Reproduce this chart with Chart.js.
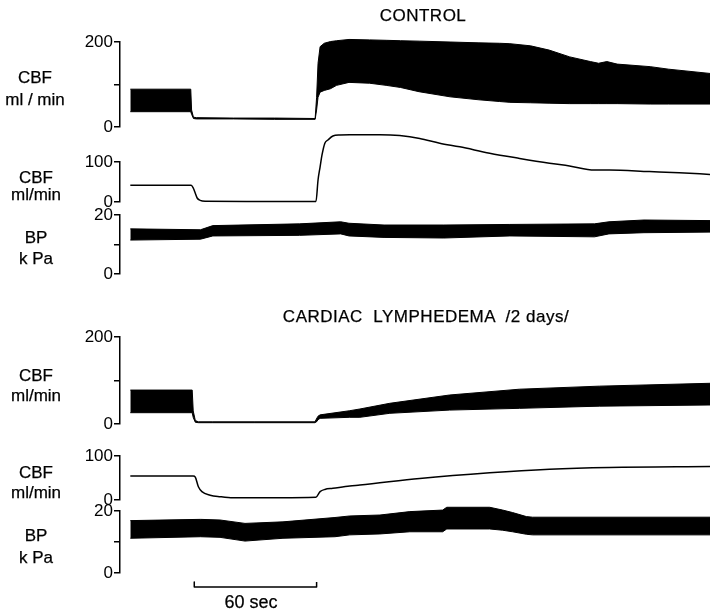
<!DOCTYPE html>
<html>
<head>
<meta charset="utf-8">
<script src="https://cdn.jsdelivr.net/npm/chart.js@4.4.1/dist/chart.umd.min.js"></script>
<style>
  html, body { margin: 0; padding: 0; background: #fff; }
  #page { position: relative; width: 710px; height: 614px; overflow: hidden;
          font-family: "Liberation Sans", Arial, Helvetica, sans-serif; color: #000; }
  #page canvas { position: absolute; left: 0; top: 0; }
  .lbl { position: absolute; transform: translate(-50%, -50%); white-space: pre;
         font-size: 17px; line-height: 1; -webkit-text-stroke: 0.25px #000; }
  .title { letter-spacing: 0.5px; }
</style>
</head>
<body>
<div id="page">
  <canvas id="p1" width="710" height="614"></canvas>
  <canvas id="p2" width="710" height="614"></canvas>
  <canvas id="p3" width="710" height="614"></canvas>
  <canvas id="p4" width="710" height="614"></canvas>
  <canvas id="p5" width="710" height="614"></canvas>
  <canvas id="p6" width="710" height="614"></canvas>

  <div class="lbl title" style="left:423px; top:15px;">CONTROL</div>
  <div class="lbl title" style="left:426px; top:316px;">CARDIAC  LYMPHEDEMA  /2 days/</div>

  <div class="lbl" style="left:35px; top:77px;">CBF</div>
  <div class="lbl" style="left:35px; top:99px;">ml / min</div>
  <div class="lbl" style="left:36px; top:177px;">CBF</div>
  <div class="lbl" style="left:36px; top:194px;">ml/min</div>
  <div class="lbl" style="left:36px; top:237px;">BP</div>
  <div class="lbl" style="left:36px; top:258px;">k Pa</div>

  <div class="lbl" style="left:36px; top:375px;">CBF</div>
  <div class="lbl" style="left:36px; top:395px;">ml/min</div>
  <div class="lbl" style="left:36px; top:472px;">CBF</div>
  <div class="lbl" style="left:36px; top:492px;">ml/min</div>
  <div class="lbl" style="left:36px; top:535px;">BP</div>
  <div class="lbl" style="left:36px; top:557px;">k Pa</div>

  <div class="lbl" style="left:251px; top:602px; font-size:18px;">60 sec</div>
</div>
<script>
const PAGE_H = 614;
const AXIS_X = 120;
const T_MIN = -5, T_MAX = 281;   // seconds; recording starts at t = 0
const FONT = '"Liberation Sans", Arial, Helvetica, sans-serif';

// CONTROL - phasic CBF (ml/min), upper and lower envelope
const ctlPhasicT  = [0, 29.3, 29.7, 30.6, 32, 50, 70, 89.6, 90.3, 91, 92, 94, 97, 100, 106, 116, 124, 131, 140, 155, 169, 179, 184, 194, 203, 213, 223, 227, 231, 236, 252, 261, 281];
const ctlPhasicHi = [89, 89, 40, 23, 22, 21, 21, 20, 70, 150, 189, 197, 201, 203, 206, 205, 204, 203, 202, 200, 198, 197, 196, 191, 181, 165, 154, 150, 154, 148, 142, 136, 126];
const ctlPhasicLo = [36, 36, 30, 20, 19, 19, 18, 18, 40, 70, 82, 86, 90, 98, 105, 103, 98, 93, 83, 71, 64, 60, 58, 57, 56, 55, 55, 55, 55, 55, 54, 54, 54];

// CONTROL - mean CBF (ml/min)
const ctlMeanT = [0, 29.5, 30.5, 31.5, 32.4, 33.9, 36.3, 60, 90, 91, 92, 92.9, 94.3, 95.8, 98.2, 101.6, 106.4, 121, 130.6, 140.3, 150, 159.7, 174.2, 188.7, 203.2, 212.9, 225, 232.2, 251.6, 266.1, 281];
const ctlMean  = [42, 42, 35, 22, 10, 4, 2, 1.5, 1.5, 55, 88, 117, 147, 155, 165, 167.5, 168, 168, 166, 159, 147, 138, 122, 109, 97, 90, 80, 80, 76, 73, 69];

// CONTROL - BP (kPa)
const ctlBpT  = [0, 34, 40, 82, 102, 106, 123, 152, 184, 225, 232, 249, 281];
const ctlBpHi = [15.3, 15, 16.4, 17, 17.7, 17.2, 16.6, 16.6, 16.8, 17, 17.7, 18.3, 18.1];
const ctlBpLo = [11.5, 11.8, 12.9, 13.1, 13.6, 12.9, 12.4, 12.2, 12.9, 12.6, 13.6, 14, 14.2];

// CARDIAC LYMPHEDEMA - phasic CBF (ml/min)
const lymPhasicT  = [0, 30, 30.5, 31.5, 33, 40, 60, 89.5, 90.5, 91, 92, 106.4, 111.3, 125.8, 154.8, 188.7, 227.4, 281];
const lymPhasicHi = [78, 78, 30, 8, 5, 5, 5, 5, 14, 18, 21, 30.6, 34.5, 47.6, 66.7, 80, 87, 93.6];
const lymPhasicLo = [26, 26, 15, 4, 3, 3, 3, 3, 6, 10, 13, 15.4, 15.4, 24.6, 32, 36, 41, 43.7];

// CARDIAC LYMPHEDEMA - mean CBF (ml/min)
const lymMeanT = [0, 30.5, 31.5, 33, 34.7, 38.7, 43.5, 49.8, 90, 92, 94.3, 98.2, 106.4, 111.3, 140.3, 174.2, 203.2, 232.2, 281];
const lymMean  = [54.5, 54.5, 52, 30, 19, 11, 7.5, 5, 6.5, 19, 24, 26.5, 32, 34, 49, 62, 70, 74, 76];

// CARDIAC LYMPHEDEMA - BP (kPa)
const lymBpT  = [0, 34, 43.5, 55.6, 74, 99.2, 106.4, 121, 135.5, 151.4, 153.4, 174.2, 180.5, 185.3, 192, 195, 281];
const lymBpHi = [16.9, 17.3, 17.1, 16, 16.5, 17.9, 18.4, 18.7, 19.8, 20.3, 21.2, 21.2, 20.3, 19.5, 18.2, 18, 18];
const lymBpLo = [11.2, 11.7, 11.5, 10.3, 11.2, 11.7, 12.3, 12.6, 13.3, 13.3, 14.2, 14.2, 13.8, 13.3, 12.5, 12.3, 12.3];

// 60 sec time marker, in units of the lowest panel
const barT = [31, 31, 90.3, 90.3];
const barV = [-2.9, -4.5, -4.5, -2.9];

function pts(t, v) {
    return t.map((x, i) => ({ x: x, y: v[i] }));
}

function bandSets(t, hi, lo) {
    return [
        { data: pts(t, hi), borderColor: '#000', borderWidth: 1, fill: false, clip: false },
        { data: pts(t, lo), borderColor: '#000', borderWidth: 1, backgroundColor: '#000', fill: '-1', clip: false }
    ];
}

function traceSet(t, v, w, smooth) {
    return {
        data: pts(t, v), borderColor: '#000', borderWidth: w || 1.5, fill: false, clip: false,
        cubicInterpolationMode: smooth ? 'monotone' : 'default'
    };
}

// the filler clips to the chart area, the phasic traces go past the axis max
const freeFill = {
    id: 'freeFill',
    beforeDatasetsDraw(chart) {
        chart._keptArea = chart.chartArea;
        chart.chartArea = Object.assign({}, chart.chartArea, { top: 0, bottom: chart.height });
    },
    afterDatasetsDraw(chart) {
        chart.chartArea = chart._keptArea;
    }
};

function panelChart(id, top, bottom, yMax, yMid, datasets) {
    let tickValues = [0, yMid, yMax].filter(v => v !== null);
    return new Chart(document.getElementById(id), {
        type: 'line',
        data: { datasets: datasets },
        plugins: [freeFill],
        options: {
            responsive: false,
            animation: false,
            events: [],
            devicePixelRatio: 1,
            layout: { padding: { top: top, bottom: PAGE_H - bottom, left: 0, right: 0 } },
            plugins: { legend: { display: false }, tooltip: { enabled: false } },
            elements: { point: { radius: 0 }, line: { tension: 0, borderJoinStyle: 'round' } },
            scales: {
                x: { type: 'linear', display: false, min: T_MIN, max: T_MAX },
                y: {
                    min: 0,
                    max: yMax,
                    afterFit: scale => { scale.width = AXIS_X; },
                    afterBuildTicks: scale => { scale.ticks = tickValues.map(v => ({ value: v })); },
                    grid: { drawOnChartArea: false, drawTicks: true, tickLength: 6, color: '#000', lineWidth: 1.5 },
                    border: { display: true, color: '#000', width: 1.5 },
                    ticks: {
                        color: '#000',
                        padding: 1,
                        font: { family: FONT, size: 17 },
                        callback: v => (v === yMid ? '' : String(v))
                    }
                }
            }
        }
    });
}

panelChart('p1', 42, 127, 200, 100, bandSets(ctlPhasicT, ctlPhasicHi, ctlPhasicLo));
panelChart('p2', 162, 202, 100, null, [traceSet(ctlMeanT, ctlMean, 1.5, true)]);
panelChart('p3', 215, 274, 20, 10, bandSets(ctlBpT, ctlBpHi, ctlBpLo));
panelChart('p4', 337, 424, 200, 100, bandSets(lymPhasicT, lymPhasicHi, lymPhasicLo));
panelChart('p5', 456, 500, 100, null, [traceSet(lymMeanT, lymMean, 1.5, true)]);
panelChart('p6', 511, 573, 20, 10,
    bandSets(lymBpT, lymBpHi, lymBpLo).concat([traceSet(barT, barV, 1.5, false)]));
</script>
</body>
</html>
